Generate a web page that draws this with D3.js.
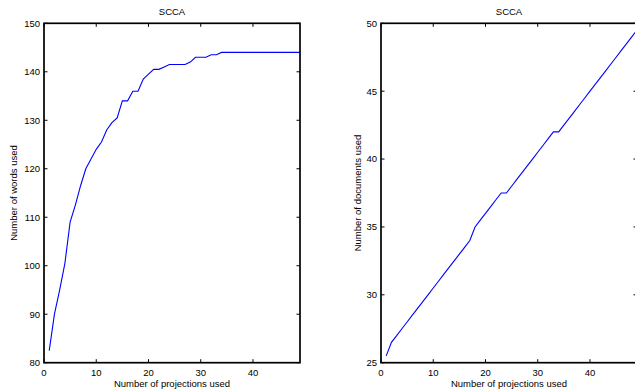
<!DOCTYPE html>
<html>
<head>
<meta charset="utf-8">
<script src="https://cdn.jsdelivr.net/npm/d3@7"></script>
<style>
  body { margin: 0; background: #fff; }
  svg text { font-family: "Liberation Sans", Arial, sans-serif; fill: #000; }
  .frame { fill: none; stroke: #000; stroke-width: 1.7; }
</style>
</head>
<body>
<div id="chart"></div>
<script>
/* ===== Data ===== */
const projections = d3.range(1, 50);

const wordsUsed = [82.5, 90, 95, 100.5, 109, 112.5, 116.5, 120, 122, 124,
                   125.5, 128, 129.5, 130.5, 134, 134, 136, 136, 138.5, 139.5,
                   140.5, 140.5, 141, 141.5, 141.5, 141.5, 141.5, 142, 143, 143,
                   143, 143.5, 143.5, 144, 144, 144, 144, 144, 144, 144,
                   144, 144, 144, 144, 144, 144, 144, 144, 144];

const documentsUsed = [25.5, 26.5, 27, 27.5, 28, 28.5, 29, 29.5, 30, 30.5,
                       31, 31.5, 32, 32.5, 33, 33.5, 34, 35, 35.5, 36,
                       36.5, 37, 37.5, 37.5, 38, 38.5, 39, 39.5, 40, 40.5,
                       41, 41.5, 42, 42, 42.5, 43, 43.5, 44, 44.5, 45,
                       45.5, 46, 46.5, 47, 47.5, 48, 48.5, 49, 49.5];

const xTicks = [0, 10, 20, 30, 40];
const wordTicks = [80, 90, 100, 110, 120, 130, 140, 150];
const docTicks = [25, 30, 35, 40, 45, 50];

const panels = [
    {title: "SCCA", ylabel: "Number of words used", values: wordsUsed,
     ydomain: [80, 150], yticks: wordTicks, left: 44, labelX: 14},
    {title: "SCCA", ylabel: "Number of documents used", values: documentsUsed,
     ydomain: [25, 50], yticks: docTicks, left: 381, labelX: 358}
];

const width = 635, height = 391;
const plotTop = 23.3, plotBottom = 362.7, plotWidth = 256;
const tickLen = 3.5;

const svg = d3.select("#chart").append("svg")
              .attr("width", width)
              .attr("height", height);

panels.forEach(p => {
    const x = d3.scaleLinear().domain([0, 49]).range([p.left, p.left + plotWidth]);
    const y = d3.scaleLinear().domain(p.ydomain).range([plotBottom, plotTop]);
    const g = svg.append("g");

    // ticks pointing inward on all four sides, like matlab
    xTicks.forEach(t => {
        g.append("line").attr("x1", x(t)).attr("x2", x(t))
         .attr("y1", plotBottom).attr("y2", plotBottom - tickLen)
         .attr("stroke", "#000");
        g.append("line").attr("x1", x(t)).attr("x2", x(t))
         .attr("y1", plotTop).attr("y2", plotTop + tickLen)
         .attr("stroke", "#000");
        g.append("text").attr("x", x(t)).attr("y", plotBottom + 13.5)
         .attr("text-anchor", "middle").attr("font-size", 9.5)
         .text(t);
    });

    p.yticks.forEach(t => {
        g.append("line").attr("x1", x.range()[0]).attr("x2", x.range()[0] + tickLen)
         .attr("y1", y(t)).attr("y2", y(t)).attr("stroke", "#000");
        g.append("line").attr("x1", x.range()[1]).attr("x2", x.range()[1] - tickLen)
         .attr("y1", y(t)).attr("y2", y(t)).attr("stroke", "#000");
        g.append("text").attr("x", x.range()[0] - 4).attr("y", y(t) + 3.4)
         .attr("text-anchor", "end").attr("font-size", 9.5)
         .text(t);
    });

    const line = d3.line()
                   .x((d, i) => x(projections[i]))
                   .y(d => y(d));

    g.append("path")
     .datum(p.values)
     .attr("d", line)
     .attr("fill", "none")
     .attr("stroke", "#0000ff")
     .attr("stroke-width", 1.1);

    g.append("rect").classed("frame", true)
     .attr("x", x.range()[0]).attr("y", plotTop)
     .attr("width", plotWidth).attr("height", plotBottom - plotTop);

    g.append("text")
     .attr("x", p.left + plotWidth / 2).attr("y", 15)
     .attr("text-anchor", "middle").attr("font-size", 9.5)
     .text(p.title);

    g.append("text")
     .attr("x", p.left + plotWidth / 2).attr("y", 386.5)
     .attr("text-anchor", "middle").attr("font-size", 9.5)
     .text("Number of projections used");

    g.append("text")
     .attr("transform", `translate(${p.labelX + 3},${(plotTop + plotBottom) / 2}) rotate(-90)`)
     .attr("text-anchor", "middle").attr("font-size", 9.5)
     .text(p.ylabel);
});
</script>
</body>
</html>
